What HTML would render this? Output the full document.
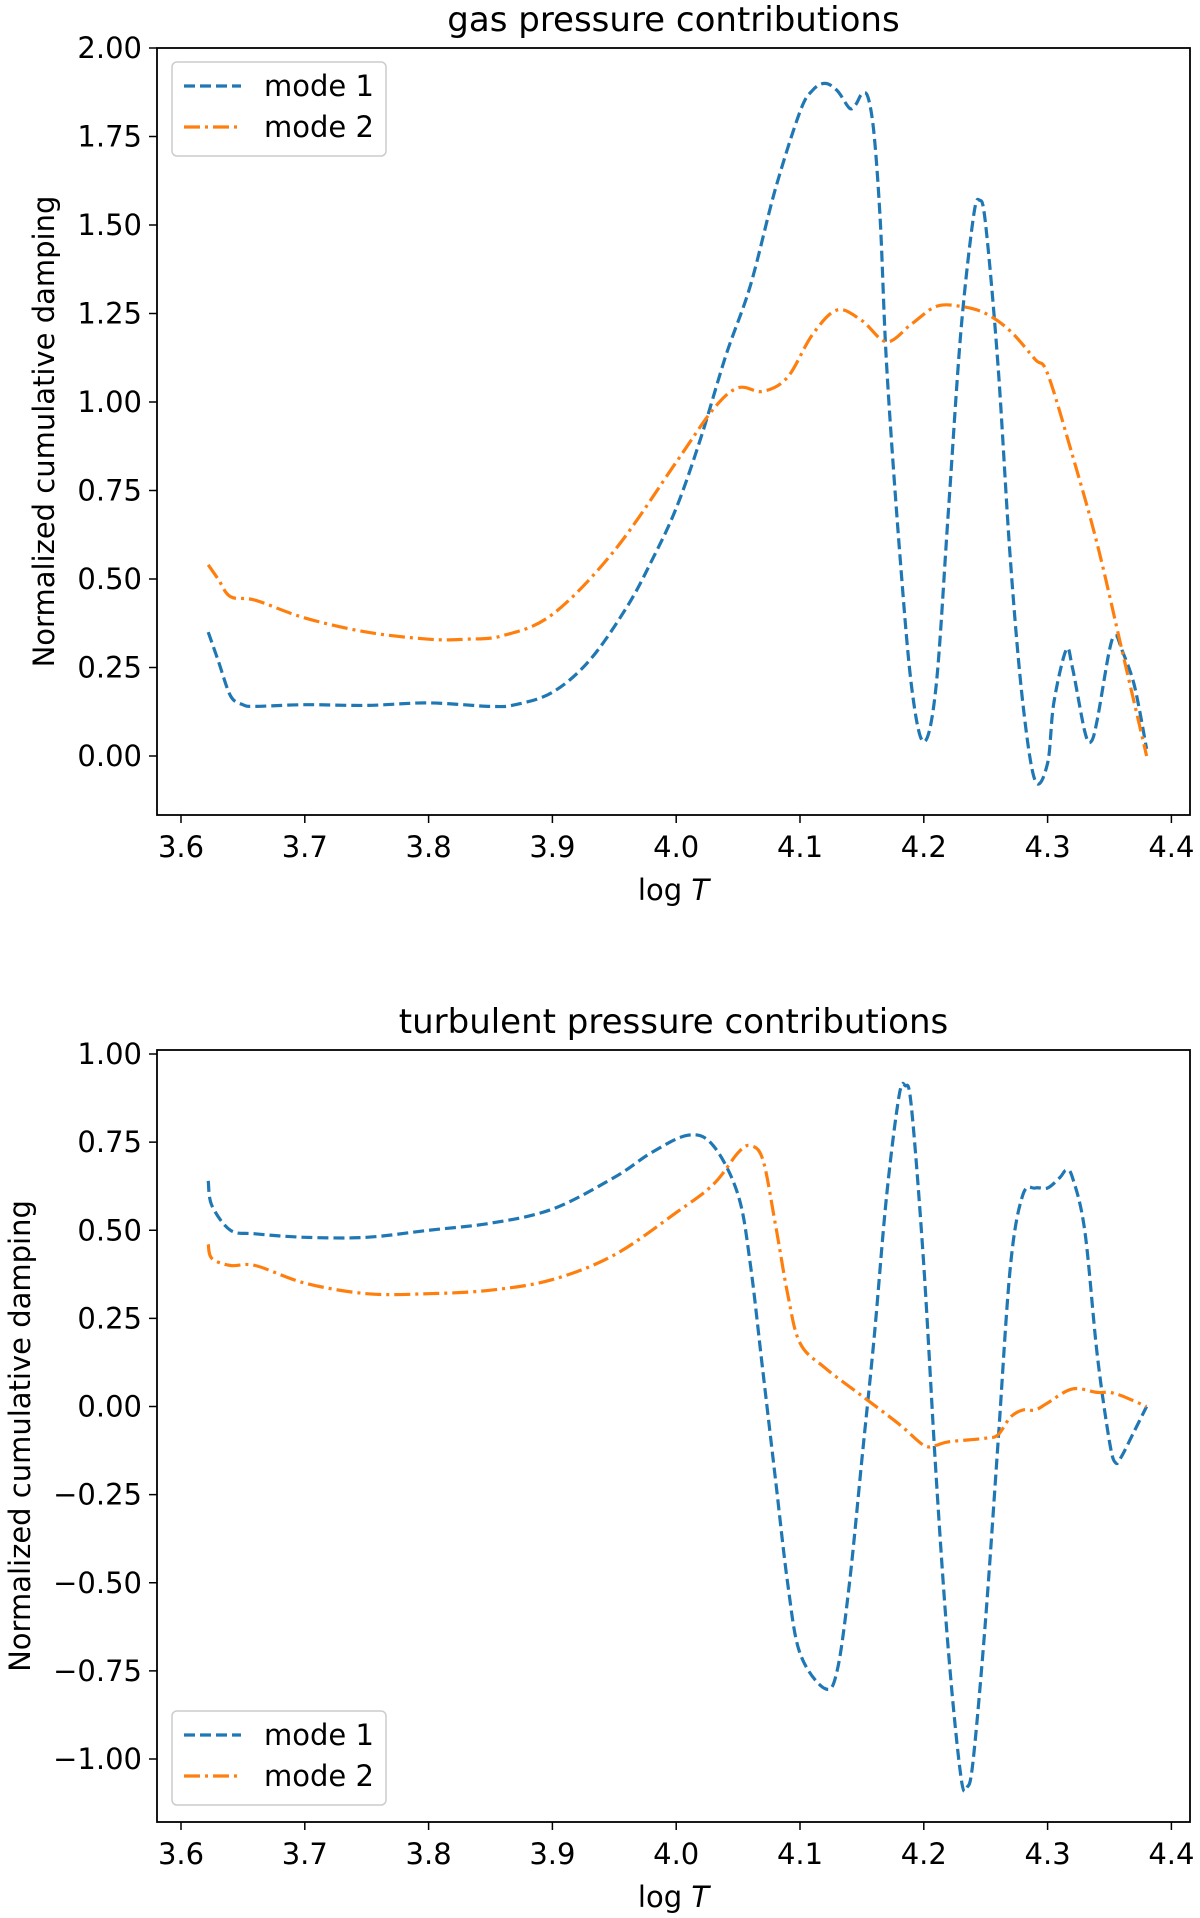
<!DOCTYPE html>
<html><head><meta charset="utf-8"><style>
body{margin:0;background:#fff}
svg{display:block;font-family:"DejaVu Sans","Liberation Sans",sans-serif}
</style></head><body>
<svg id="fig" width="1200" height="1918" viewBox="0 0 1200 1918" xmlns="http://www.w3.org/2000/svg"></svg>
<script>
const xTicks=[3.6,3.7,3.8,3.9,4.0,4.1,4.2,4.3,4.4];
const topYTicks=[0,0.25,0.5,0.75,1.0,1.25,1.5,1.75,2.0];
const botYTicks=[-1.0,-0.75,-0.5,-0.25,0,0.25,0.5,0.75,1.0];
const gasX1=[3.622,3.63,3.64,3.65,3.66,3.7,3.75,3.8,3.85,3.87,3.9,3.93,3.96,3.98,4.0,4.02,4.04,4.06,4.08,4.1,4.11,4.12,4.13,4.14,4.145,4.15,4.155,4.16,4.165,4.17,4.18,4.19,4.2,4.21,4.22,4.23,4.24,4.245,4.25,4.26,4.27,4.28,4.29,4.3,4.305,4.315,4.32,4.33,4.335,4.34,4.35,4.355,4.36,4.37,4.38];
const gasY1=[0.35,0.27,0.17,0.145,0.14,0.145,0.143,0.15,0.14,0.145,0.18,0.27,0.42,0.55,0.7,0.9,1.13,1.33,1.6,1.82,1.88,1.9,1.88,1.83,1.84,1.87,1.86,1.75,1.5,1.1,0.6,0.2,0.04,0.2,0.7,1.2,1.52,1.57,1.5,1.1,0.55,0.15,-0.07,-0.02,0.15,0.3,0.25,0.07,0.04,0.1,0.3,0.34,0.3,0.2,0.02];
const gasX2=[3.622,3.63,3.64,3.66,3.7,3.75,3.8,3.83,3.86,3.9,3.95,4.0,4.03,4.05,4.07,4.09,4.11,4.13,4.15,4.17,4.19,4.21,4.23,4.25,4.27,4.29,4.3,4.32,4.34,4.36,4.37,4.38];
const gasY2=[0.54,0.5,0.45,0.44,0.39,0.35,0.33,0.33,0.34,0.4,0.58,0.83,0.98,1.04,1.03,1.07,1.19,1.26,1.23,1.17,1.22,1.27,1.27,1.25,1.2,1.12,1.08,0.85,0.6,0.3,0.15,0.0];
const turbX1=[3.622,3.625,3.64,3.66,3.7,3.75,3.8,3.85,3.9,3.95,3.98,4.01,4.03,4.05,4.06,4.07,4.08,4.09,4.1,4.12,4.13,4.14,4.15,4.16,4.17,4.18,4.185,4.19,4.2,4.21,4.22,4.23,4.235,4.24,4.25,4.26,4.27,4.28,4.29,4.3,4.31,4.315,4.32,4.33,4.34,4.35,4.355,4.36,4.37,4.38];
const turbY1=[0.64,0.57,0.5,0.49,0.48,0.48,0.5,0.52,0.56,0.65,0.72,0.77,0.74,0.6,0.4,0.1,-0.2,-0.5,-0.7,-0.8,-0.75,-0.5,-0.15,0.2,0.6,0.88,0.91,0.85,0.4,-0.2,-0.7,-1.05,-1.08,-1.0,-0.6,-0.1,0.4,0.6,0.62,0.62,0.65,0.67,0.65,0.5,0.15,-0.1,-0.16,-0.14,-0.07,0.0];
const turbX2=[3.622,3.625,3.64,3.66,3.7,3.75,3.8,3.85,3.9,3.95,4.0,4.03,4.05,4.06,4.07,4.08,4.09,4.1,4.12,4.15,4.18,4.2,4.21,4.22,4.25,4.26,4.27,4.28,4.29,4.3,4.32,4.34,4.35,4.36,4.38];
const turbY2=[0.46,0.42,0.4,0.4,0.35,0.32,0.32,0.33,0.36,0.43,0.55,0.63,0.72,0.74,0.7,0.52,0.32,0.18,0.11,0.03,-0.05,-0.11,-0.11,-0.1,-0.09,-0.08,-0.03,-0.01,-0.01,0.01,0.05,0.04,0.04,0.03,0.0];

const NS="http://www.w3.org/2000/svg";
const svg=document.getElementById('fig');
function mk(tag,attrs,parent){const e=document.createElementNS(NS,tag);for(const k in attrs)e.setAttribute(k,attrs[k]);(parent||svg).appendChild(e);return e;}
const L=157,R=1190;
const xs=v=>181+(v-3.6)*1238;
function fmt(v,d){return (v<0?'\u2212':'')+Math.abs(v).toFixed(d);}
function smooth(P){
  let d='M'+P[0][0].toFixed(1)+','+P[0][1].toFixed(1);
  for(let i=0;i<P.length-1;i++){
    const p0=P[Math.max(i-1,0)],p1=P[i],p2=P[i+1],p3=P[Math.min(i+2,P.length-1)];
    const c1=[p1[0]+(p2[0]-p0[0])/6,p1[1]+(p2[1]-p0[1])/6];
    const c2=[p2[0]-(p3[0]-p1[0])/6,p2[1]-(p3[1]-p1[1])/6];
    d+=' C'+c1.map(v=>v.toFixed(1)).join(',')+' '+c2.map(v=>v.toFixed(1)).join(',')+' '+p2[0].toFixed(1)+','+p2[1].toFixed(1);
  }
  return d;
}

function panel(cfg){
  const g=mk('g',{});
  
  
  const ys=v=>cfg.y0+(-v)*cfg.k;
  const t=mk('text',{x:(L+R)/2,y:cfg.titleY,'text-anchor':'middle','font-size':34},g);t.textContent=cfg.title;
  
  xTicks.forEach(v=>{
    mk('line',{x1:xs(v),x2:xs(v),y1:cfg.bottom,y2:cfg.bottom+8,stroke:'#000','stroke-width':1.5},g);
    const tx=mk('text',{x:xs(v),y:cfg.bottom+42,'text-anchor':'middle','font-size':29},g);tx.textContent=v.toFixed(1);
    
  });
  cfg.yTicks.forEach(v=>{
    mk('line',{x1:L-8,x2:L,y1:ys(v),y2:ys(v),stroke:'#000','stroke-width':1.5},g);
    const ty=mk('text',{x:L-15,y:ys(v)+10,'text-anchor':'end','font-size':29},g);ty.textContent=fmt(v,2);
    
  });
  const xl=mk('text',{x:(L+R)/2,y:cfg.bottom+85,'text-anchor':'middle','font-size':29},g);
  xl.innerHTML='log <tspan font-style="italic">T</tspan>';
  
  const yl=mk('text',{x:cfg.ylX,y:(cfg.top+cfg.bottom)/2,'text-anchor':'middle','font-size':29,transform:`rotate(-90 ${cfg.ylX} ${(cfg.top+cfg.bottom)/2})`},g);
  yl.textContent='Normalized cumulative damping';
  
  const series=[[cfg.x1,cfg.y1,'#1f77b4','11 5','mode-1-line'],[cfg.x2,cfg.y2,'#ff7f0e','16 5 3 5','mode-2-line']];
  series.forEach(s=>{
    const P=s[0].map((x,i)=>[xs(x),ys(s[1][i])]);
    const p=mk('path',{d:smooth(P),fill:'none',stroke:s[2],'stroke-width':3.2,'stroke-dasharray':s[3],'stroke-linejoin':'round'},g);
    
  });
  mk('rect',{x:L,y:cfg.top,width:R-L,height:cfg.bottom-cfg.top,fill:'none',stroke:'#000','stroke-width':1.8},g);
  const lg=mk('g',{},g);
  
  mk('rect',{x:172,y:cfg.legY,width:214,height:94,rx:5,fill:'#fff','fill-opacity':0.8,stroke:'#ccc','stroke-width':1.5},lg);
  [['mode 1','#1f77b4','11 5',24],['mode 2','#ff7f0e','16 5 3 5',65]].forEach(e=>{
    const ey=cfg.legY+e[3];
    mk('line',{x1:184,x2:241,y1:ey,y2:ey,stroke:e[1],'stroke-width':3.2,'stroke-dasharray':e[2]},lg);
    const tt=mk('text',{x:264,y:ey+10,'font-size':29},lg);tt.textContent=e[0];
    
  });
}
panel({name:'gas-pressure-panel',title:'gas pressure contributions',titleY:31,top:48,bottom:815,y0:756,k:354,yTicks:topYTicks,ylX:54,
  x1:gasX1,y1:gasY1,x2:gasX2,y2:gasY2,legY:62});
panel({name:'turbulent-pressure-panel',title:'turbulent pressure contributions',titleY:1033,top:1050,bottom:1822,y0:1406.5,k:352.5,yTicks:botYTicks,ylX:30,
  x1:turbX1,y1:turbY1,x2:turbX2,y2:turbY2,legY:1711});
</script>
</body></html>
